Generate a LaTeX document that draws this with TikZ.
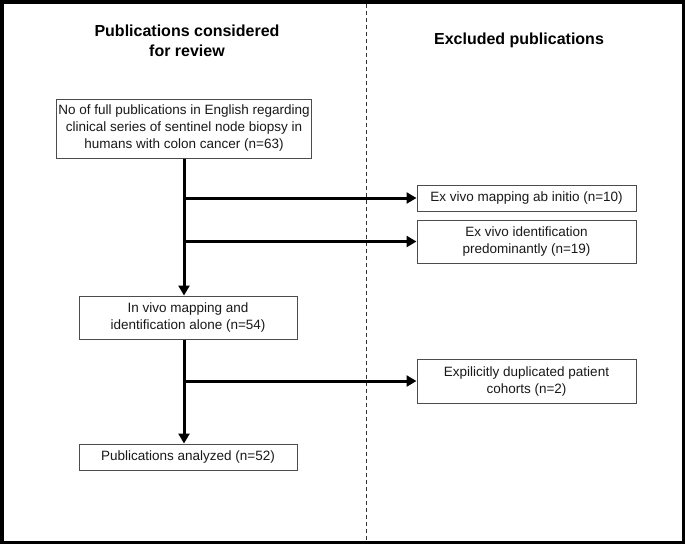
\documentclass[tikz,border=0pt]{standalone}
\usepackage{fontspec}
\setmainfont{Liberation Sans}
\usetikzlibrary{arrows.meta}
\tikzset{
  box/.style={draw=black!70, line width=1pt, fill=white, align=center, inner sep=2pt,
    font=\fontsize{13.5}{17}\selectfont, text=black!90},
  flow/.style={line width=3pt, -{Triangle[length=10pt,width=11pt]}},
  flowline/.style={line width=3pt},
  heading/.style={align=center, font=\fontsize{16}{19.5}\selectfont\bfseries}
}
\begin{document}
\begin{tikzpicture}[x=1pt,y=-1pt]
\useasboundingbox (0,0) rectangle (685,544);
\fill[white] (0,0) rectangle (685,544);
\draw[line width=3.5pt] (1.75,1.75) rectangle (683.25,542.25);
\draw[black!80, line width=1pt, dash pattern=on 4pt off 3pt] (366,3.5) -- (366,540.5);

\node[heading] (h1) at (187,41) {Publications considered\\for review};
\node[heading] (h2) at (519,40) {Excluded publications};

\node[box, minimum width=252pt, minimum height=59pt] (b1) at (184,128.5)
  {No of full publications in English regarding\\clinical series of sentinel node biopsy in\\humans with colon cancer (n=63)};
\node[box, minimum width=219pt, minimum height=26pt] (b2) at (526.5,198)
  {Ex vivo mapping ab initio (n=10)};
\node[box, minimum width=219pt, minimum height=43pt] (b3) at (526.5,241.5)
  {Ex vivo identification\\predominantly (n=19)};
\node[box, minimum width=218pt, minimum height=43pt] (b4) at (188,317.5)
  {In vivo mapping and\\identification alone (n=54)};
\node[box, minimum width=219pt, minimum height=44pt] (b5) at (526.5,381)
  {Expilicitly duplicated patient\\cohorts (n=2)};
\node[box, minimum width=218pt, minimum height=26pt] (b6) at (188,457)
  {Publications analyzed (n=52)};

\draw[flow] (b1.south) -- (b1.south |- b4.north);
\draw[flow] (b1.south |- b2.west) -- (b2.west);
\draw[flow] (b1.south |- b3.west) -- (b3.west);
\draw[flow] (b1.south |- b4.south) -- (b1.south |- b6.north);
\draw[flow] (b1.south |- b5.west) -- (b5.west);
\end{tikzpicture}
\end{document}
